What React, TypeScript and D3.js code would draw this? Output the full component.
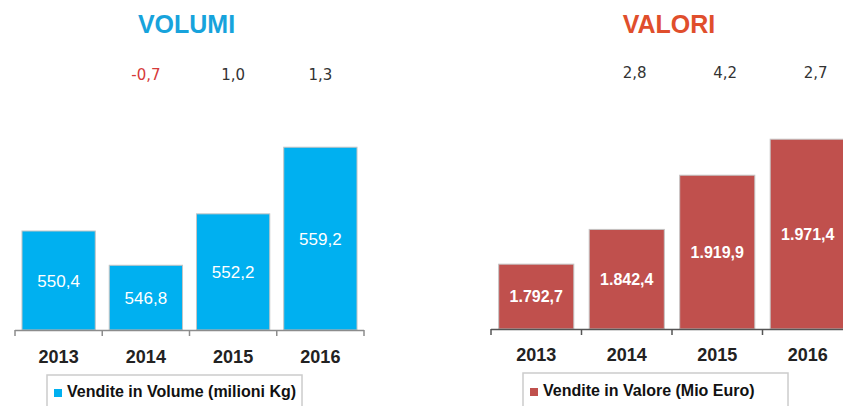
import React from "react";
import * as d3 from "d3";

const years = ["2013", "2014", "2015", "2016"];
const volumi = [550.4, 546.8, 552.2, 559.2];
const volumiLabels = ["550,4", "546,8", "552,2", "559,2"];
const volumiVar = [null, "-0,7", "1,0", "1,3"];
const valori = [1792.7, 1842.4, 1919.9, 1971.4];
const valoriLabels = ["1.792,7", "1.842,4", "1.919,9", "1.971,4"];
const valoriVar = [null, "2,8", "4,2", "2,7"];

const W = 843;
const H = 406;

type PanelProps = {
  title: string;
  titleColor: string;
  values: number[];
  labels: string[];
  vars: (string | null)[];
  barColor: string;
  xRange: [number, number];
  padInner: number;
  padOuter: number;
  yDomain: [number, number];
  yRange: [number, number];
  axisColor: string;
  labelWeight: string;
  labelSize: number;
  varY: number;
  varDx: number;
  yearY: number;
  legendText: string;
  legendBox: { x: number; y: number; w: number };
  legendTextY: number;
};

function Panel(p: PanelProps) {
  const x = d3
    .scaleBand<string>()
    .domain(years)
    .range(p.xRange)
    .paddingInner(p.padInner)
    .paddingOuter(p.padOuter);
  const y = d3.scaleLinear().domain(p.yDomain).range(p.yRange);
  const base = p.yRange[0];
  const step = x.step();
  const tickXs = years.map((yr) => (x(yr) as number) - (step * p.padInner) / 2);
  tickXs.push(p.xRange[1]);
  const titleX = (p.xRange[0] + p.xRange[1]) / 2 - 3;
  const font = "'Liberation Sans', Arial, sans-serif";
  return (
    <g>
      <text
        x={titleX}
        y={33}
        textAnchor="middle"
        fontFamily={font}
        fontWeight="bold"
        fontSize={25}
        fill={p.titleColor}
      >
        {p.title}
      </text>
      {years.map((yr, i) =>
        p.vars[i] ? (
          <text
            key={"v" + yr}
            x={(x(yr) as number) + x.bandwidth() / 2 + p.varDx}
            y={p.varY}
            textAnchor="middle"
            fontFamily="'DejaVu Sans', Verdana, sans-serif"
            fontSize={15}
            fill={(p.vars[i] as string).startsWith("-") ? "#d63a3a" : "#333333"}
          >
            {p.vars[i]}
          </text>
        ) : null
      )}
      {years.map((yr, i) => {
        const top = y(p.values[i]);
        return (
          <g key={yr}>
            <rect
              x={x(yr)}
              y={top}
              width={x.bandwidth()}
              height={base - top}
              fill={p.barColor}
              stroke="#c4c4c4"
              strokeWidth={1}
            />
            <text
              x={(x(yr) as number) + x.bandwidth() / 2}
              y={(top + base) / 2}
              dy="0.36em"
              textAnchor="middle"
              fontFamily={font}
              fontWeight={p.labelWeight}
              fontSize={p.labelSize}
              fill="#ffffff"
            >
              {p.labels[i]}
            </text>
            <text
              x={(x(yr) as number) + x.bandwidth() / 2}
              y={p.yearY}
              textAnchor="middle"
              fontFamily={font}
              fontWeight="bold"
              fontSize={18}
              fill="#222222"
            >
              {yr}
            </text>
          </g>
        );
      })}
      <line
        x1={p.xRange[0]}
        x2={p.xRange[1]}
        y1={base + 0.5}
        y2={base + 0.5}
        stroke={p.axisColor}
        strokeWidth={1.5}
      />
      {tickXs.map((tx, i) => (
        <line
          key={"t" + i}
          x1={tx}
          x2={tx}
          y1={base}
          y2={base + 6}
          stroke={p.axisColor}
          strokeWidth={1.5}
        />
      ))}
      <rect
        x={p.legendBox.x}
        y={p.legendBox.y}
        width={p.legendBox.w}
        height={60}
        fill="#ffffff"
        stroke="#cccccc"
        strokeWidth={1.5}
      />
      <rect
        x={p.legendBox.x + 7}
        y={p.legendTextY - 8}
        width={8}
        height={8}
        fill={p.barColor}
      />
      <text
        x={p.legendBox.x + 20}
        y={p.legendTextY}
        fontFamily={font}
        fontWeight="bold"
        fontSize={16}
        fill="#111111"
      >
        {p.legendText}
      </text>
    </g>
  );
}

export default function App() {
  return (
    <svg
      width={W}
      height={H}
      style={{ position: "absolute", left: 0, top: 0, background: "#ffffff" }}
    >
      <rect x={0} y={0} width={W} height={H} fill="#ffffff" />
      <Panel
        title="VOLUMI"
        titleColor="#17a3dc"
        values={volumi}
        labels={volumiLabels}
        vars={volumiVar}
        barColor="#00b0f0"
        xRange={[15, 364]}
        padInner={0.16}
        padOuter={0.08}
        yDomain={[540, 560]}
        yRange={[330, 139.6]}
        axisColor="#8c8c8c"
        labelWeight="normal"
        labelSize={17}
        varY={80}
        varDx={0}
        yearY={363}
        legendText="Vendite in Volume (milioni Kg)"
        legendBox={{ x: 47, y: 375, w: 255 }}
        legendTextY={397}
      />
      <Panel
        title="VALORI"
        titleColor="#e04e2c"
        values={valori}
        labels={valoriLabels}
        vars={valoriVar}
        barColor="#c0504d"
        xRange={[491, 853]}
        padInner={0.17}
        padOuter={0.085}
        yDomain={[1700, 2000]}
        yRange={[329, 119.2]}
        axisColor="#555555"
        labelWeight="bold"
        labelSize={16}
        varY={78}
        varDx={8}
        yearY={361}
        legendText="Vendite in Valore (Mio Euro)"
        legendBox={{ x: 523, y: 373, w: 265 }}
        legendTextY={396}
      />
    </svg>
  );
}
